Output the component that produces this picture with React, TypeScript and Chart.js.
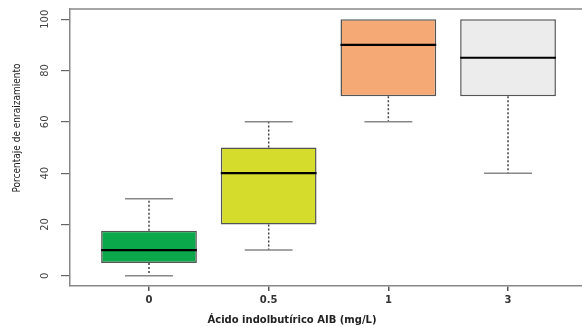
import React, { useEffect, useRef } from "react";
import { Chart, registerables } from "chart.js";

Chart.register(...registerables);

const categories = ["0", "0.5", "1", "3"];
const positions = [1, 2, 3, 4];
const lowerWhisker = [0, 10, 60, 40];
const q1 = [5, 20, 70, 70];
const median = [10, 40, 90, 85];
const q3 = [17.5, 50, 100, 100];
const upperWhisker = [30, 60, 100, 100];
const yTicks = [0, 20, 40, 60, 80, 100];
const boxColors = ["#0aa84b", "#d6dc2c", "#f5aa75", "#ebeceb"];
const yTitle = "Porcentaje de enraizamiento";
const xTitle = "Ácido indolbutírico AIB (mg/L)";

const boxPlugin = {
  id: "boxExtras",
  afterDatasetsDraw(chart: any) {
    const { ctx, chartArea, scales } = chart;
    const xs = scales.x;
    const ys = scales.y;
    const meta = chart.getDatasetMeta(0);
    ctx.save();
    positions.forEach((p, i) => {
      const bar = meta.data[i];
      const half = bar.width / 2;
      const cx = xs.getPixelForValue(p);
      const capHalf = half / 2;
      ctx.strokeStyle = "#444";
      ctx.lineWidth = 1.5;
      ctx.setLineDash([2, 2]);
      ctx.beginPath();
      ctx.moveTo(cx, ys.getPixelForValue(q3[i]));
      ctx.lineTo(cx, ys.getPixelForValue(upperWhisker[i]));
      ctx.moveTo(cx, ys.getPixelForValue(q1[i]));
      ctx.lineTo(cx, ys.getPixelForValue(lowerWhisker[i]));
      ctx.stroke();
      ctx.setLineDash([]);
      ctx.strokeStyle = "#888";
      ctx.lineWidth = 1.5;
      ctx.beginPath();
      const yu = ys.getPixelForValue(upperWhisker[i]);
      const yl = ys.getPixelForValue(lowerWhisker[i]);
      if (upperWhisker[i] > q3[i]) {
        ctx.moveTo(cx - capHalf, yu);
        ctx.lineTo(cx + capHalf, yu);
      }
      ctx.moveTo(cx - capHalf, yl);
      ctx.lineTo(cx + capHalf, yl);
      ctx.stroke();
      ctx.strokeStyle = "#000";
      ctx.lineWidth = 2.2;
      ctx.beginPath();
      const ym = ys.getPixelForValue(median[i]);
      ctx.moveTo(cx - half, ym);
      ctx.lineTo(cx + half, ym);
      ctx.stroke();
    });
    ctx.strokeStyle = "#888";
    ctx.lineWidth = 1.5;
    ctx.beginPath();
    ctx.moveTo(chartArea.left, chartArea.top);
    ctx.lineTo(chartArea.right, chartArea.top);
    ctx.stroke();
    ctx.fillStyle = "#444";
    ctx.font = '11px "Liberation Sans Narrow", "DejaVu Sans Condensed", sans-serif';
    ctx.textAlign = "center";
    ctx.textBaseline = "middle";
    ys.ticks.forEach((t: any) => {
      const y = ys.getPixelForValue(t.value);
      ctx.save();
      ctx.translate(45, y);
      ctx.rotate(-Math.PI / 2);
      ctx.fillText(String(t.value), 0, 0);
      ctx.restore();
    });
    ctx.fillStyle = "#1a1a1a";
    ctx.font = '10px "Liberation Sans Narrow", "DejaVu Sans Condensed", sans-serif';
    ctx.save();
    ctx.translate(17, 128);
    ctx.rotate(-Math.PI / 2);
    ctx.fillText(yTitle, 0, 0);
    ctx.restore();
    ctx.fillStyle = "#222";
    ctx.font = 'bold 10px "DejaVu Sans", sans-serif';
    ctx.fillText(xTitle, chartArea.left + 222, 320);
    ctx.restore();
  },
};

export default function App() {
  const ref = useRef<HTMLCanvasElement | null>(null);
  useEffect(() => {
    if (!ref.current) return;
    const chart = new Chart(ref.current, {
      type: "bar",
      data: {
        datasets: [
          {
            data: positions.map((p, i) => ({ x: p, y: [q1[i], q3[i]] })) as any,
            backgroundColor: boxColors,
            borderColor: "#555",
            borderWidth: 1.5,
            borderSkipped: false,
            barPercentage: 0.8,
            categoryPercentage: 1,
          },
        ],
      },
      options: {
        animation: false,
        responsive: false,
        events: [],
        layout: { padding: { top: 9, left: 0, right: 0, bottom: 0 } },
        plugins: { legend: { display: false }, tooltip: { enabled: false } },
        scales: {
          x: {
            type: "linear",
            min: 0.34,
            max: 4.618,
            offset: false,
            afterBuildTicks: (s: any) => {
              s.ticks = positions.map((v) => ({ value: v }));
            },
            afterFit: (s: any) => {
              s.height = 40;
            },
            grid: {
              offset: false,
              drawOnChartArea: false,
              drawTicks: true,
              tickLength: 5,
              color: "#555",
              lineWidth: 1.5,
            },
            border: { display: true, color: "#888", width: 1.5 },
            ticks: {
              autoSkip: false,
              maxRotation: 0,
              padding: 3,
              color: "#333",
              font: { family: '"DejaVu Sans", sans-serif', size: 10, weight: "bold" },
              callback: (v: any) => {
                const idx = positions.indexOf(Number(v));
                return idx >= 0 ? categories[idx] : "";
              },
            },
          },
          y: {
            type: "linear",
            min: -4,
            max: 104,
            afterBuildTicks: (s: any) => {
              s.ticks = yTicks.map((v) => ({ value: v }));
            },
            afterFit: (s: any) => {
              s.width = 70;
            },
            grid: {
              drawOnChartArea: false,
              drawTicks: true,
              tickLength: 9,
              color: "#666",
              lineWidth: 1.2,
            },
            border: { display: true, color: "#888", width: 1.5 },
            ticks: { display: false },
          },
        },
      },
      plugins: [boxPlugin],
    });
    return () => chart.destroy();
  }, []);
  return (
    <div style={{ position: "absolute", left: 0, top: 0, width: 582, height: 326, background: "#fff" }}>
      <canvas ref={ref} width={582} height={326} style={{ display: "block" }} />
    </div>
  );
}
